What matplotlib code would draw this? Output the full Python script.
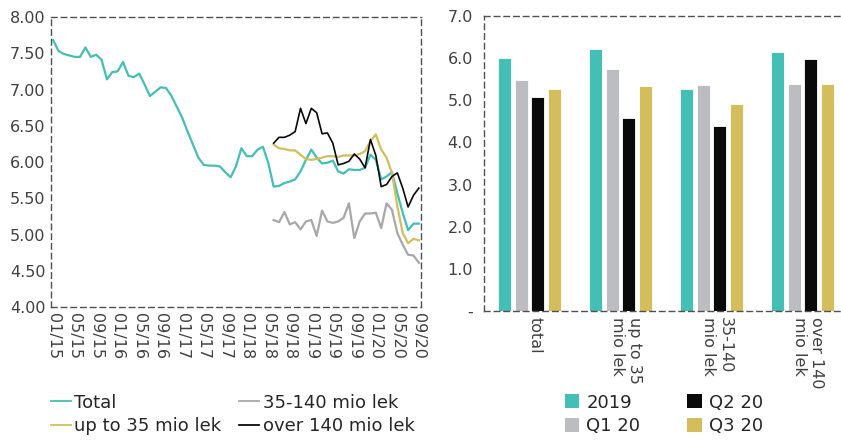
import matplotlib
matplotlib.use("Agg")
import matplotlib.pyplot as plt
import numpy as np
from matplotlib.patches import Patch
from matplotlib.lines import Line2D

plt.rcParams['font.family'] = ['DejaVu Sans']

# ---------------- data ----------------
month_labels = ["01/15", "05/15", "09/15", "01/16", "05/16", "09/16", "01/17", "05/17",
                "09/17", "01/18", "05/18", "09/18", "01/19", "05/19", "09/19", "01/20",
                "05/20", "09/20"]

total = [7.68, 7.53, 7.49, 7.47, 7.45, 7.45, 7.58, 7.45, 7.48, 7.41,
         7.14, 7.24, 7.25, 7.38, 7.19, 7.17, 7.22, 7.07, 6.91, 6.97,
         7.03, 7.02, 6.91, 6.76, 6.61, 6.42, 6.24, 6.06, 5.96, 5.95,
         5.95, 5.94, 5.86, 5.79, 5.94, 6.19, 6.08, 6.08, 6.17, 6.21,
         5.99, 5.66, 5.67, 5.71, 5.73, 5.76, 5.87, 6.03, 6.17, 6.06,
         5.98, 5.99, 6.02, 5.87, 5.84, 5.90, 5.89, 5.89, 5.92, 6.10,
         6.03, 5.76, 5.80, 5.86, 5.57, 5.30, 5.06, 5.15, 5.15]

start_sub = 41  # first month of the size-group series (06/18)
up_to_35 = [6.24, 6.19, 6.18, 6.16, 6.16, 6.10, 6.04, 6.03, 6.04, 6.06,
            6.08, 6.08, 6.07, 6.09, 6.09, 6.09, 6.11, 6.15, 6.29, 6.38,
            6.17, 6.06, 5.85, 5.39, 5.02, 4.88, 4.94, 4.92]
mid_35_140 = [5.20, 5.17, 5.31, 5.14, 5.17, 5.07, 5.18, 5.20, 4.98, 5.33,
              5.18, 5.16, 5.18, 5.23, 5.43, 4.95, 5.18, 5.29, 5.29, 5.30,
              5.09, 5.43, 5.34, 5.02, 4.86, 4.72, 4.71, 4.61]
over_140 = [6.26, 6.34, 6.34, 6.37, 6.42, 6.74, 6.53, 6.74, 6.68, 6.39,
            6.40, 6.26, 5.96, 5.98, 6.01, 6.11, 6.04, 5.92, 6.31, 6.09,
            5.66, 5.69, 5.80, 5.85, 5.64, 5.38, 5.54, 5.64]

line_names = ["Total", "up to 35 mio lek", "35-140 mio lek", "over 140 mio lek"]

bar_categories = ["total", "up to 35\nmio lek", "35-140\nmio lek", "over 140\nmio lek"]
bar_series = ["2019", "Q1 20", "Q2 20", "Q3 20"]
bar_2019 = [6.01, 6.21, 5.26, 6.15]
bar_q1 = [5.49, 5.74, 5.36, 5.38]
bar_q2 = [5.08, 4.57, 4.39, 5.97]
bar_q3 = [5.26, 5.34, 4.91, 5.38]

# ---------------- style ----------------
c_teal = "#43BFB5"
c_gray = "#A8A8A8"
c_black = "#0A0A0A"
c_gold = "#D4BE5B"
c_bar_gray = "#BCBDC1"
txt = "#404040"
frame_c = "#505050"

fig = plt.figure(figsize=(8.41, 4.41), dpi=100)

def dashed_frame(ax):
    for s in ax.spines.values():
        s.set_linestyle((0, (4, 3)))
        s.set_color(frame_c)
        s.set_linewidth(1.0)

# ---------------- line chart ----------------
ax1 = fig.add_axes([51/841, 1 - 307/441, 370/841, 290/441])
n = len(total)
x_all = np.arange(n)
x_sub = np.arange(start_sub, start_sub + len(up_to_35))
ax1.plot(x_all, total, color=c_teal, lw=1.6)
ax1.plot(x_sub, up_to_35, color=c_gold, lw=1.6)
ax1.plot(x_sub, mid_35_140, color=c_gray, lw=1.6)
ax1.plot(x_sub, over_140, color=c_black, lw=1.2)
ax1.set_xlim(-0.4, n - 1 + 0.4)
ax1.set_ylim(4.0, 8.0)
ax1.set_yticks(np.arange(4.0, 8.01, 0.5))
ax1.set_yticklabels([f"{v:.2f}" for v in np.arange(4.0, 8.01, 0.5)])
ax1.set_xticks(np.arange(0, n, 4))
ax1.set_xticklabels(month_labels, rotation=270, va="top", ha="center")
ax1.tick_params(length=0, colors=txt, labelsize=11.5, pad=4)
dashed_frame(ax1)

line_handles = [Line2D([], [], color=c, lw=1.3) for c in [c_teal, c_gold, c_gray, c_black]]
fig.legend(line_handles, line_names,
           ncol=2, loc="upper left", bbox_to_anchor=(38/841, 1 - 381/441),
           frameon=False, fontsize=13, handlelength=1.1, handletextpad=0.2,
           columnspacing=1.0, labelspacing=0.3, labelcolor="#262626",
           borderpad=0.2)

# ---------------- bar chart ----------------
ax2 = fig.add_axes([484/841, 1 - 311/441, 364/841, 295/441])
xc = np.arange(len(bar_categories))
w = 0.146
pitch = 0.183
cols = [c_teal, c_bar_gray, c_black, c_gold]
data = [bar_2019, bar_q1, bar_q2, bar_q3]
for k, (vals, col) in enumerate(zip(data, cols)):
    ax2.bar(xc + (k - 1.5) * pitch, vals, width=w, color=col,
            edgecolor="white", linewidth=0.6, label=bar_series[k])
ax2.set_xlim(-0.5, len(bar_categories) - 0.5)
ax2.set_ylim(0, 7.0)
ax2.set_yticks(np.arange(0, 7.01, 1.0))
ax2.set_yticklabels(["-"] + [f"{v:.1f}" for v in np.arange(1.0, 7.01, 1.0)])
ax2.set_xticks(xc + 0.06)
ax2.set_xticklabels(bar_categories, rotation=270, va="top", ha="center",
                    multialignment="left")
ax2.tick_params(length=0, colors=txt, labelsize=11.5, pad=4)
ax2.tick_params(axis="y", pad=8)
dashed_frame(ax2)

bar_handles = [Patch(facecolor=c) for c in cols]
fig.legend(bar_handles, bar_series, ncol=2, loc="upper left",
           bbox_to_anchor=(552/841, 1 - 381/441), frameon=False, fontsize=13,
           handlelength=0.8, handleheight=0.8, handletextpad=0.4,
           columnspacing=2.6, labelspacing=0.3, labelcolor="#262626",
           borderpad=0.2)

fig.savefig("out.png", dpi=100)
